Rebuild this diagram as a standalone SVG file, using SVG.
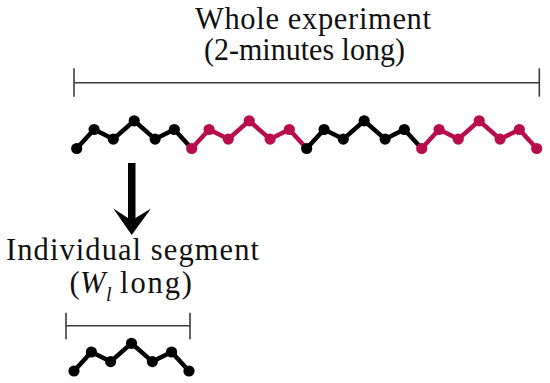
<svg xmlns="http://www.w3.org/2000/svg" xmlns:xlink="http://www.w3.org/1999/xlink" width="550" height="383" viewBox="0 0 550 383">
  <style>
    .lbl { font-family: 'Liberation Serif', 'DejaVu Serif', serif; font-size: 30.5px; fill: #111; }
    .it { font-style: italic; }
    .sub { font-size: 20px; }
    .bracket { stroke: #3c3c3c; stroke-width: 1.6; fill: none; }
    .blk { color: #000; }
    .red { color: #b80d4c; }
  </style>
  <defs>
    <g id="seg">
      <polyline points="0,0 17.4,-19 36.6,-9.4 57.5,-27.7 78.4,-9.4 97.6,-19 115,0" fill="none" stroke="currentColor" stroke-width="4.5" stroke-linejoin="round" stroke-linecap="round"/>
      <circle cx="0" cy="0" r="5.6" fill="currentColor"/>
      <circle cx="17.4" cy="-19" r="5.6" fill="currentColor"/>
      <circle cx="36.6" cy="-9.4" r="5.6" fill="currentColor"/>
      <circle cx="57.5" cy="-27.7" r="5.6" fill="currentColor"/>
      <circle cx="78.4" cy="-9.4" r="5.6" fill="currentColor"/>
      <circle cx="97.6" cy="-19" r="5.6" fill="currentColor"/>
    </g>
  </defs>

  <g id="title">
    <text class="lbl" x="195" y="29" textLength="236" lengthAdjust="spacing">Whole experiment</text>
    <text class="lbl" x="204" y="60" textLength="201" lengthAdjust="spacingAndGlyphs">(2-minutes long)</text>
  </g>

  <g id="whole-bracket" class="bracket">
    <line x1="74" y1="82.7" x2="539.3" y2="82.7"/>
    <line x1="74" y1="68.3" x2="74" y2="96.7"/>
    <line x1="539.3" y1="68.3" x2="539.3" y2="96.7"/>
  </g>

  <g id="experiment-chain">
    <use xlink:href="#seg" href="#seg" class="blk" transform="translate(76.7,148.5)"/>
    <use xlink:href="#seg" href="#seg" class="red" transform="translate(191.7,148.5)"/>
    <use xlink:href="#seg" href="#seg" class="blk" transform="translate(306.7,148.5)"/>
    <use xlink:href="#seg" href="#seg" class="red" transform="translate(421.7,148.5)"/>
    <circle cx="536.7" cy="148.5" r="5.6" fill="#b80d4c"/>
  </g>

  <g id="connectors">
    <polygon points="128,163 135.5,163 135.5,218 151,208.5 131.7,235 113.3,208.5 128,218" fill="#000"/>
  </g>

  <g id="segment-label">
    <text class="lbl" x="6" y="260" textLength="253" lengthAdjust="spacing">Individual segment</text>
    <text class="lbl" x="69.5" y="293">(</text>
    <text class="lbl it" x="80" y="293">W</text>
    <text class="lbl it sub" x="106" y="301">l</text>
    <text class="lbl" x="120" y="293" textLength="72" lengthAdjust="spacing">long)</text>
  </g>

  <g id="segment-bracket" class="bracket">
    <line x1="66" y1="325.7" x2="190" y2="325.7"/>
    <line x1="66" y1="312.7" x2="66" y2="339.3"/>
    <line x1="190" y1="312.7" x2="190" y2="339.3"/>
  </g>

  <g id="individual-segment">
    <use xlink:href="#seg" href="#seg" class="blk" transform="translate(74,371)"/>
    <circle cx="189" cy="371" r="5.6" fill="#000"/>
  </g>
</svg>
